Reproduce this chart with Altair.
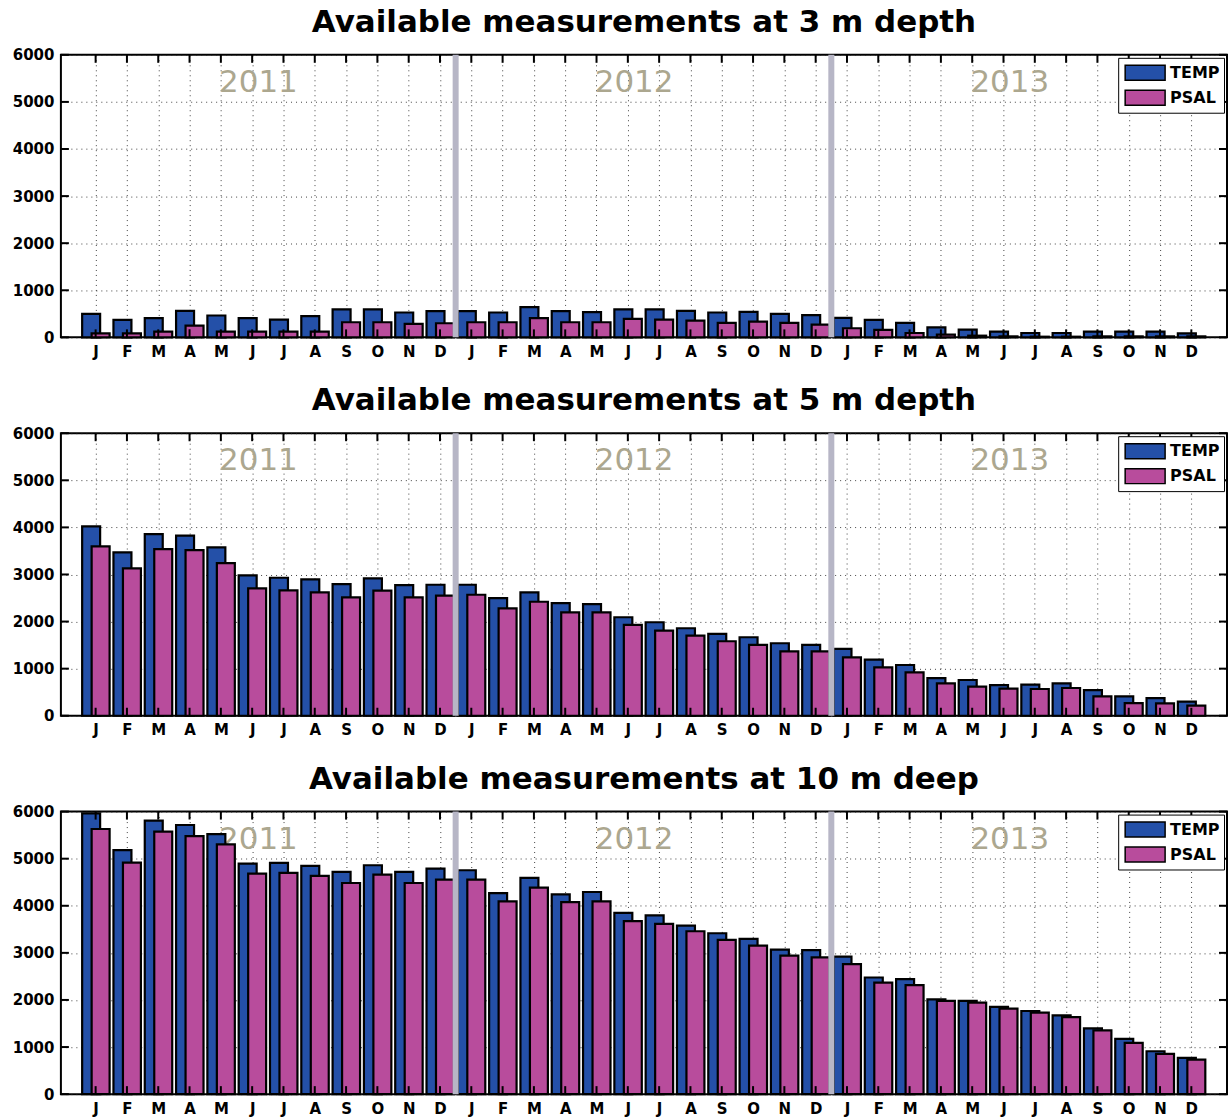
import json
import altair as alt
import pandas as pd

# ---------------- data ----------------
month_labels = ["J", "F", "M", "A", "M", "J", "J", "A", "S", "O", "N", "D"] * 3
years = ["2011", "2012", "2013"]
year_pos = [5.2, 17.2, 29.2]
year_val = [5400, 5400, 5400]
year_breaks = [11.5, 23.5]
y_ticks = [0, 1000, 2000, 3000, 4000, 5000, 6000]

temp_3m = [500, 371, 407, 564, 464, 407, 378, 450, 593, 593, 528, 557,
           557, 528, 643, 557, 535, 593, 593, 564, 528, 543, 500, 471,
           414, 371, 307, 214, 164, 121, 93, 93, 121, 121, 121, 86]
psal_3m = [86, 86, 121, 250, 121, 121, 121, 121, 321, 321, 286, 300,
           321, 321, 407, 321, 321, 393, 378, 357, 307, 336, 307, 271,
           193, 157, 93, 57, 36, 21, 14, 14, 21, 21, 21, 21]

temp_5m = [4021, 3469, 3858, 3823, 3575, 2981, 2931, 2896, 2796, 2917, 2775, 2782,
           2782, 2499, 2619, 2393, 2372, 2092, 1986, 1858, 1738, 1667, 1539, 1504,
           1418, 1191, 1078, 801, 759, 652, 660, 688, 546, 411, 376, 298]
psal_5m = [3596, 3129, 3540, 3519, 3242, 2704, 2662, 2619, 2513, 2655, 2513, 2549,
           2570, 2280, 2421, 2195, 2195, 1929, 1807, 1702, 1582, 1504, 1368, 1368,
           1241, 1028, 922, 688, 617, 575, 568, 589, 411, 270, 263, 213]

temp_10m = [5964, 5181, 5808, 5715, 5523, 4897, 4911, 4847, 4719, 4861, 4719, 4790,
            4754, 4270, 4591, 4242, 4292, 3851, 3794, 3580, 3416, 3295, 3068, 3060,
            2918, 2477, 2441, 2014, 1979, 1851, 1765, 1673, 1395, 1174, 911, 769]
psal_10m = [5630, 4918, 5573, 5480, 5302, 4683, 4698, 4633, 4484, 4662, 4484, 4555,
            4555, 4093, 4384, 4078, 4093, 3673, 3616, 3459, 3274, 3153, 2940, 2904,
            2762, 2370, 2313, 1979, 1943, 1815, 1730, 1637, 1352, 1089, 854, 733]

titles = ["Available measurements at 3 m depth",
          "Available measurements at 5 m depth",
          "Available measurements at 10 m deep"]

# ---------------- style ----------------
W, H = 1168, 283
FONT = "DejaVu Sans"
C_TEMP = "#2450a8"
C_PSAL = "#b84c9c"

xs = alt.Scale(domain=[-0.95, 35.98], nice=False, zero=False)
ys = alt.Scale(domain=[0, 6000], nice=False)

x_axis = alt.Axis(values=list(range(36)),
                  labelExpr=json.dumps(month_labels) + "[datum.value]",
                  grid=True, gridDash=[1, 4], gridColor="#222", gridOpacity=0.85,
                  ticks=False, domain=False, labelFont=FONT, labelFontWeight="bold",
                  labelFontSize=15, labelColor="black", labelPadding=7, title=None)
y_axis = alt.Axis(values=y_ticks, format="d", grid=True, gridDash=[1, 4],
                  gridColor="#222", gridOpacity=0.85, ticks=False, domain=False,
                  labelFont=FONT, labelFontWeight="bold", labelFontSize=15,
                  labelColor="black", labelPadding=7, title=None)

color_scale = alt.Scale(domain=["TEMP", "PSAL"], range=[C_TEMP, C_PSAL])
legend = alt.Legend(orient="top-right", title=None, offset=3,
                    symbolType="M-2,-0.75L2,-0.75L2,0.75L-2,0.75Z",
                    symbolSize=400, symbolStrokeColor="black", symbolStrokeWidth=1.5,
                    symbolOffset=12, labelOffset=14, symbolOpacity=1,
                    labelFont=FONT, labelFontSize=16, labelFontWeight="bold",
                    labelColor="black", fillColor="white", strokeColor="black",
                    padding=4, rowPadding=3)


def X(field="x:Q"):
    return alt.X(field, scale=xs, axis=x_axis, title=None)


def Y(field="y:Q"):
    return alt.Y(field, scale=ys, axis=y_axis, title=None)


def panel(temp, psal, title):
    bars = pd.DataFrame({
        "x": list(range(36)) * 2,
        "y": temp + psal,
        "var": ["TEMP"] * 36 + ["PSAL"] * 36,
    })
    ylab = pd.DataFrame({"x": year_pos, "y": year_val, "year": years})
    brk = pd.DataFrame({"x": year_breaks})
    yt = pd.DataFrame({"y": y_ticks})
    xt = pd.DataFrame({"x": list(range(36))})

    text = alt.Chart(ylab).mark_text(font=FONT, fontSize=31, color="#aca78f",
                                     baseline="middle", align="center").encode(
        x=X(), y=Y(), text="year:N")
    col = alt.Color("var:N", scale=color_scale, legend=legend)
    tbar = alt.Chart(bars).transform_filter(alt.datum.var == "TEMP").mark_bar(
        width=18, xOffset=-4.5, stroke="black", strokeWidth=2.2, opacity=1).encode(
        x=X(), y=Y(), color=col)
    pbar = alt.Chart(bars).transform_filter(alt.datum.var == "PSAL").mark_bar(
        width=18, xOffset=5, stroke="black", strokeWidth=2.2, opacity=1).encode(
        x=X(), y=Y(), color=col)
    sep = alt.Chart(brk).mark_rule(color="#b7b6c6", strokeWidth=6).encode(x=X())
    lt = alt.Chart(yt).mark_tick(orient="horizontal", size=8, thickness=2,
                                 color="black", opacity=1).encode(
        y=Y(), x=alt.value(4))
    rt = alt.Chart(yt).mark_tick(orient="horizontal", size=8, thickness=2,
                                 color="black", opacity=1).encode(
        y=Y(), x=alt.value(W - 4))
    tt = alt.Chart(xt).mark_tick(orient="vertical", size=8, thickness=2,
                                 color="black", opacity=1).encode(
        x=X(), y=alt.value(4))
    bt = alt.Chart(xt).mark_tick(orient="vertical", size=8, thickness=2,
                                 color="black", opacity=1).encode(
        x=X(), y=alt.value(H - 4))
    return alt.layer(text, tbar, pbar, sep, lt, rt, tt, bt).properties(
        width=W, height=H,
        title=alt.TitleParams(title, font=FONT, fontSize=31, fontWeight="bold",
                              anchor="middle", offset=9, color="black"))


chart = alt.vconcat(
    panel(temp_3m, psal_3m, titles[0]),
    panel(temp_5m, psal_5m, titles[1]),
    panel(temp_10m, psal_10m, titles[2]),
    spacing=24,
).resolve_legend(color="independent").properties(
    padding={"left": 11, "top": 5, "right": 2, "bottom": 2},
    background="white",
).configure_view(stroke="black", strokeWidth=2)

chart.save("out.html", embed_options={"renderer": "svg", "actions": False})
